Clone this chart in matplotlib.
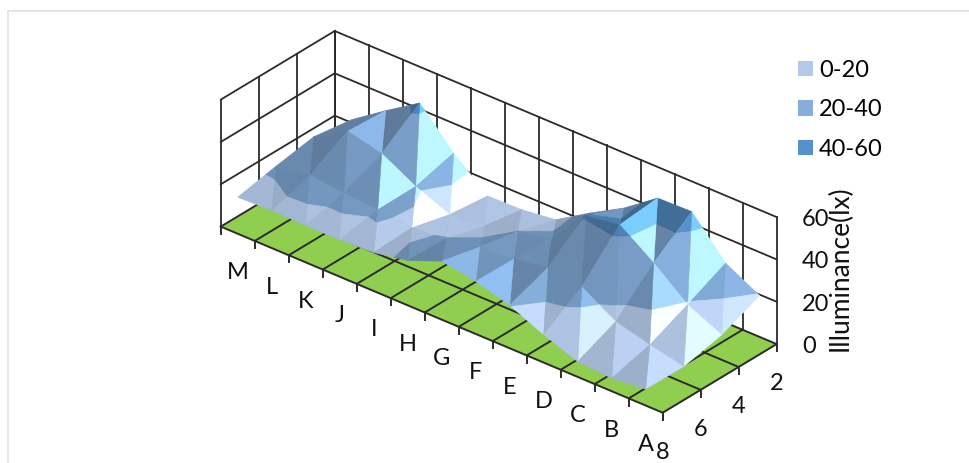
import numpy as np
import matplotlib
matplotlib.use("Agg")
import matplotlib.pyplot as plt
from matplotlib.patches import Patch, Rectangle
from mpl_toolkits.mplot3d import proj3d
from mpl_toolkits.mplot3d.art3d import Poly3DCollection

plt.rcParams["font.family"] = ["Lato", "DejaVu Sans"]

# Illuminance readings per row (A..M), one list per depth position
categories = ["A", "B", "C", "D", "E", "F", "G", "H", "I", "J", "K", "L", "M"]
depth_labels = ["8", "6", "4", "2"]
depth8 = [7.7, 6.1, 7.2, 13.2, 20.3, 24.9, 27.6, 21.2, 18.2, 17.5, 17.4, 17.7, 17.3]
depth6 = [7.6, 11.0, 15.3, 25.0, 27.2, 24.6, 23.5, 20.5, 19.0, 20.8, 22.0, 23.5, 21.0]
depth4 = [11.8, 19.3, 32.2, 43.5, 41.0, 23.4, 20.1, 15.7, 14.5, 21.0, 29.8, 33.6, 24.2]
depth2 = [19.5, 28.1, 45.7, 45.3, 33.8, 24.7, 14.8, 12.8, 12.5, 26.0, 42.9, 32.5, 21.5]
z_ticks = [0, 20, 40, 60]
band_edges = [0, 20, 40, 60]
band_labels = ["0-20", "20-40", "40-60"]
band_colors = ["#b4c9e9", "#85aedc", "#5691c9"]

FLOOR = "#8fce4e"
LINE = "#2b2b2b"
TEXT = "#111111"
W, H = 970, 463
DPI = 100
TICK_SIZE = 17

values = np.array([depth8, depth6, depth4, depth2])  # index: depth, row
n_depth, n_rows = values.shape
rows_pos = np.arange(n_rows) + 0.5
depth_pos = np.arange(n_depth)

fig = plt.figure(figsize=(W / DPI, H / DPI), dpi=DPI)
ax = fig.add_axes([0, 0, 1, 1], projection="3d", computed_zorder=False)
ax.set_proj_type("ortho")
ax.view_init(elev=30.24, azim=219.9)
ax.set_box_aspect((177.6, 576.0, 147.0))
ax.set_xlim(0, n_depth - 1)
ax.set_ylim(0, n_rows)
ax.set_zlim(0, 60)
ax.set_axis_off()
ax.patch.set_alpha(0)


def to_pixels(x, y, z):
    px, py, _ = proj3d.proj_transform(x, y, z, ax.get_proj())
    return ax.transData.transform((px, py))


# Fit the plot box to its place in the figure, from the front and back floor corners
def place_box():
    size, left, bottom = 900.0, 0.0, 0.0
    for _ in range(3):
        ax.set_position([left / W, bottom / H, size / W, size / H])
        ax.apply_aspect()
        front = to_pixels(0, 0, 0)
        far = to_pixels(n_depth - 1, n_rows, 0)
        size *= np.hypot(334.7 - 662.7, 158.0 - 412.7) / np.hypot(*(far - front))
        ax.set_position([left / W, bottom / H, size / W, size / H])
        ax.apply_aspect()
        front = to_pixels(0, 0, 0)
        left += 662.7 - front[0]
        bottom += (H - 412.7) - front[1]
    ax.set_position([left / W, bottom / H, size / W, size / H])
    ax.apply_aspect()


place_box()

# Back wall and side wall grids
for z in z_ticks[1:]:
    ax.plot([n_depth - 1, n_depth - 1], [0, n_rows], [z, z], color=LINE, lw=1.3, zorder=1)
    ax.plot([0, n_depth - 1], [n_rows, n_rows], [z, z], color=LINE, lw=1.3, zorder=1)
for r in range(n_rows + 1):
    ax.plot([n_depth - 1] * 2, [r, r], [0, 60], color=LINE, lw=1.3, zorder=1)
for d in range(n_depth):
    ax.plot([d, d], [n_rows, n_rows], [0, 60], color=LINE, lw=1.3, zorder=1)

# Green floor with its grid and the tick marks along the two front edges
floor = Poly3DCollection(
    [[(0, 0, 0), (n_depth - 1, 0, 0), (n_depth - 1, n_rows, 0), (0, n_rows, 0)]],
    facecolors=FLOOR, edgecolors=FLOOR, linewidths=0, zorder=2)
ax.add_collection3d(floor)
for r in range(n_rows + 1):
    ax.plot([0, n_depth - 1], [r, r], [0, 0], color=LINE, lw=1.4, zorder=3)
    ax.plot([0, 0], [r, r], [0, -3.4], color=LINE, lw=1.4, zorder=3)
for d in range(n_depth):
    ax.plot([d, d], [0, n_rows], [0, 0], color=LINE, lw=1.4, zorder=3)
    ax.plot([d, d], [0, 0], [0, -3.4], color=LINE, lw=1.4, zorder=3)


def band_pieces(tri, lo, hi):
    """Clip one triangle to the height range lo..hi."""
    poly = [np.asarray(p, float) for p in tri]
    for limit, sign in ((lo, 1), (hi, -1)):
        out = []
        for k, p in enumerate(poly):
            q = poly[(k + 1) % len(poly)]
            dp, dq = sign * (p[2] - limit), sign * (q[2] - limit)
            if dp >= 0:
                out.append(p)
            if dp * dq < 0:
                out.append(p + (q - p) * dp / (dp - dq))
        poly = out
        if len(poly) < 3:
            return None
    return poly


def shade(tri):
    """Brightness factor for a facet lit from the A side."""
    a, b, c = [np.asarray(p, float) * (59.2, 44.3, 2.45) for p in tri]
    n = np.cross(b - a, c - a)
    n = n / np.linalg.norm(n) * np.sign(n[2])
    lit = n @ np.array([0.4, -0.85, 0.5])
    return np.interp(lit, [-0.2, 0.16, 0.37, 0.4, 0.5, 0.55, 0.65, 0.7, 0.75, 0.82],
                     [0.7, 0.74, 0.8, 0.82, 0.88, 0.9, 1.0, 1.1, 1.24, 1.42])


polys, colors = [], []
base = [np.array(matplotlib.colors.to_rgb(c)) * k for c, k in zip(band_colors, (1.1, 1.0, 1.0))]
for d in range(n_depth - 1):
    for r in range(n_rows - 1):
        p00 = (depth_pos[d], rows_pos[r], values[d, r])
        p10 = (depth_pos[d + 1], rows_pos[r], values[d + 1, r])
        p01 = (depth_pos[d], rows_pos[r + 1], values[d, r + 1])
        p11 = (depth_pos[d + 1], rows_pos[r + 1], values[d + 1, r + 1])
        for tri in ((p00, p01, p11), (p00, p11, p10)):
            f = shade(tri)
            for b in range(3):
                piece = band_pieces(tri, band_edges[b], band_edges[b + 1])
                if piece is not None:
                    polys.append(piece)
                    colors.append(tuple(np.clip(base[b] * f, 0, 1)))

surface = Poly3DCollection(polys, facecolors=colors, edgecolors=colors,
                           linewidths=0.4, zsort="average", zorder=10)
ax.add_collection3d(surface)

# Axis labels, placed below the projected tick positions
for pos, name in zip(rows_pos, categories):
    px, py = to_pixels(0, pos, -18.4)
    fig.text(px / W, py / H, name, ha="center", va="center", fontsize=TICK_SIZE, color=TEXT)
for pos, name in zip(depth_pos, depth_labels):
    px, py = to_pixels(pos, 0, -18.8)
    fig.text(px / W, py / H, name, ha="center", va="center", fontsize=TICK_SIZE, color=TEXT)
for z in z_ticks:
    px, py = to_pixels(n_depth - 1, 0, z)
    fig.text(802 / W, (py - 2.5) / H, str(z), ha="left", va="center", fontsize=TICK_SIZE, color=TEXT)
fig.text(840 / W, (H - 268) / H, "Illuminance(lx)", rotation=90, ha="center", va="center",
         fontsize=19, color=TEXT)

# Legend for the height bands
handles = [Patch(facecolor=c, edgecolor="none") for c in band_colors]
fig.legend(handles, band_labels, loc="upper left", bbox_to_anchor=(798 / W, (H - 60) / H),
           frameon=False, fontsize=TICK_SIZE, handlelength=0.635, handleheight=0.635,
           handletextpad=0.25, labelspacing=0.775, borderpad=0, borderaxespad=0)

# Chart frame, open past the right and bottom of the figure
fig.add_artist(Rectangle((8.3 / W, -5 / H), (W + 10) / W, (H + 5 - 10.5) / H,
                         transform=fig.transFigure, fill=False, edgecolor="#e6e6e6", lw=1.4))

fig.savefig("out.png", dpi=DPI)
